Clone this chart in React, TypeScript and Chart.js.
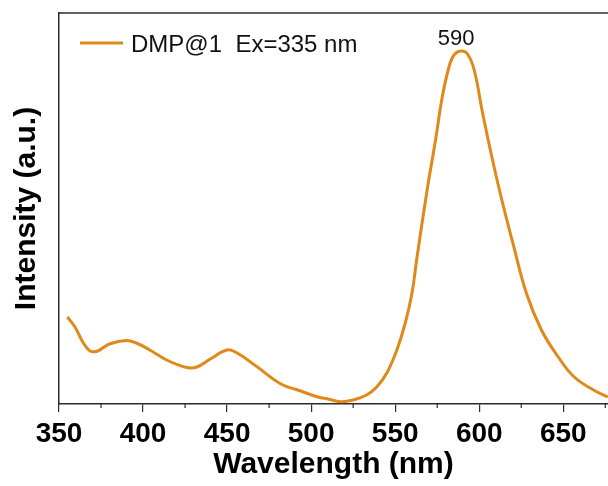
import { useEffect, useRef } from 'react';
import { Chart, registerables } from 'chart.js';

Chart.register(...registerables);

const WAVELENGTH = [
  355, 359.5, 364.5, 368.5, 373, 380, 390, 396, 404, 414, 426, 432, 440, 450, 456, 468, 482, 492,
  504, 510, 517.5, 525, 533, 539, 545, 551, 556, 560, 563, 569, 574, 578, 582, 585, 589, 593, 597,
  602, 607, 613, 620, 628, 637, 647, 656.5, 668, 676.5,
];
const INTENSITY = [
  87, 77, 61, 53, 53, 60, 63.5, 61, 54, 44, 36.5, 37, 45, 54, 51, 37, 20, 14,
  7, 5, 2.3, 4, 9, 17, 31, 54, 81, 111, 147, 214, 264, 307, 337, 349, 353, 350, 334,
  291, 251, 207, 161, 111, 74, 47, 27, 14, 7,
];
const X_MIN = 350;
const X_MAX = 676.6;
const Y_MIN = 0;
const Y_MAX = 391;
const MINOR_TICKS = [375, 425, 475, 525, 575, 625, 675];
const SERIES_LABEL = 'DMP@1  Ex=335 nm';
const PEAK_LABELS = [{ text: '590', x: 586.3, y: 353 }];
const X_TITLE = 'Wavelength (nm)';
const Y_TITLE = 'Intensity (a.u.)';

const LINE_COLOR = '#e0881a';
const AXIS_COLOR = '#2b2b2b';
const FONT = '"Liberation Sans", Arial, sans-serif';

const decorPlugin = {
  id: 'decor',
  afterDraw(chart: any) {
    const { ctx, chartArea, scales } = chart;
    const xs = scales.x;
    const ys = scales.y;
    ctx.save();
    // top frame line
    ctx.strokeStyle = AXIS_COLOR;
    ctx.lineWidth = 1.5;
    ctx.beginPath();
    ctx.moveTo(chartArea.left - 0.75, chartArea.top);
    ctx.lineTo(chartArea.right, chartArea.top);
    ctx.stroke();
    // minor ticks
    ctx.lineWidth = 1.2;
    MINOR_TICKS.forEach((v) => {
      const px = xs.getPixelForValue(v);
      ctx.beginPath();
      ctx.moveTo(px, chartArea.bottom);
      ctx.lineTo(px, chartArea.bottom + 4);
      ctx.stroke();
    });
    // legend
    const ds = chart.data.datasets[0];
    const ly = chartArea.top + 30;
    ctx.strokeStyle = ds.borderColor;
    ctx.lineWidth = 3;
    ctx.beginPath();
    ctx.moveTo(chartArea.left + 21, ly);
    ctx.lineTo(chartArea.left + 64, ly);
    ctx.stroke();
    ctx.fillStyle = '#111';
    ctx.font = `24px ${FONT}`;
    ctx.textAlign = 'left';
    ctx.textBaseline = 'alphabetic';
    ctx.fillText(ds.label, chartArea.left + 72, ly + 8.5);
    // peak labels
    ctx.font = `22px ${FONT}`;
    ctx.textAlign = 'center';
    PEAK_LABELS.forEach((p) => {
      ctx.fillText(p.text, xs.getPixelForValue(p.x), ys.getPixelForValue(p.y) - 6);
    });
    ctx.restore();
  },
};

export default function App() {
  const ref = useRef<HTMLCanvasElement>(null);
  useEffect(() => {
    if (!ref.current) return;
    const chart = new Chart(ref.current, {
      type: 'line',
      data: {
        datasets: [
          {
            label: SERIES_LABEL,
            data: WAVELENGTH.map((x, i) => ({ x, y: INTENSITY[i] })),
            borderColor: LINE_COLOR,
            backgroundColor: LINE_COLOR,
            borderWidth: 3,
            pointRadius: 0,
            tension: 0.4,
            fill: false,
          },
        ],
      },
      options: {
        animation: false,
        responsive: true,
        maintainAspectRatio: false,
        layout: { padding: { left: 0, top: 13, right: 0, bottom: 0 } },
        plugins: {
          legend: { display: false },
          tooltip: { enabled: false },
        },
        scales: {
          x: {
            type: 'linear',
            min: X_MIN,
            max: X_MAX,
            afterFit: (s: any) => {
              s.height = 82;
            },
            ticks: {
              stepSize: 50,
              includeBounds: false,
              color: '#000',
              padding: 5,
              maxRotation: 0,
              font: { family: FONT, size: 28, weight: 'bold' },
            },
            grid: {
              display: true,
              drawOnChartArea: false,
              drawTicks: true,
              tickLength: 8,
              color: AXIS_COLOR,
              lineWidth: 1.2,
            },
            border: { display: true, color: AXIS_COLOR, width: 1.5 },
            title: {
              display: true,
              text: X_TITLE,
              color: '#000',
              padding: { top: 0, bottom: 3 },
              font: { family: FONT, size: 30, weight: 'bold' },
            },
          },
          y: {
            type: 'linear',
            min: Y_MIN,
            max: Y_MAX,
            afterFit: (s: any) => {
              s.width = 59;
            },
            ticks: { display: false },
            grid: { display: false, drawTicks: false },
            border: { display: true, color: AXIS_COLOR, width: 1.5 },
            title: {
              display: true,
              text: Y_TITLE,
              color: '#000',
              padding: { top: 8.5, bottom: 0 },
              font: { family: FONT, size: 30, weight: 'bold' },
            },
          },
        },
      },
      plugins: [decorPlugin],
    } as any);
    return () => chart.destroy();
  }, []);
  return (
    <div style={{ position: 'absolute', left: 0, top: 0, width: 608, height: 486 }}>
      <canvas ref={ref} />
    </div>
  );
}
